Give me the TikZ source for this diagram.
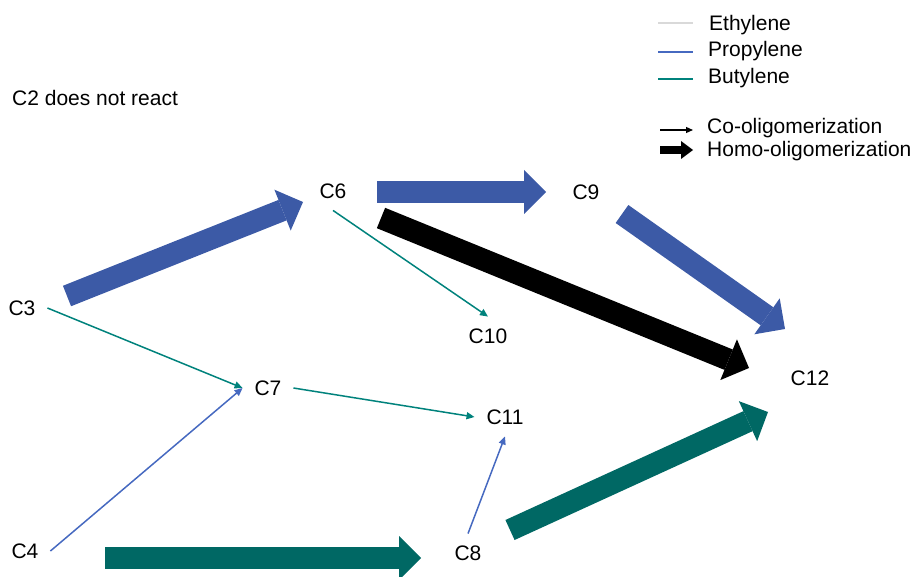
\documentclass[tikz,border=0pt]{standalone}
\usepackage{fontspec}
\setmainfont{Liberation Sans}
\usetikzlibrary{arrows.meta}
\definecolor{ethyl}{RGB}{217,217,217}
\definecolor{propthin}{RGB}{70,105,192}
\definecolor{propfat}{RGB}{60,90,166}
\definecolor{buttthin}{RGB}{0,130,124}
\definecolor{butfat}{RGB}{0,104,100}
\begin{document}
\begin{tikzpicture}[x=1bp,y=-1bp, every node/.style={font=\fontsize{21bp}{25bp}\selectfont},
  species/.style={inner sep=0pt, outer sep=12bp},
  legtext/.style={anchor=base west, inner sep=0pt},
  co/.style={line width=1.5bp, -{Triangle[width=7bp,length=8bp]}},
  homo/.style={line width=22bp, -{Triangle[width=44bp,length=22bp,line width=0pt]}}]
\useasboundingbox (0,0) rectangle (919,577);
\node[species] (C3) at (22,308) {C3};
\node[species] (C4) at (25,551) {C4};
\node[species] (C6) at (333,191) {C6};
\node[species] (C7) at (268,388) {C7};
\node[species] (C8) at (468,553) {C8};
\node[species] (C9) at (586,192) {C9};
\node[species] (C10) at (488,336) {C10};
\node[species] (C11) at (505,417) {C11};
\node[species] (C12) at (810,378) {C12};
\node[anchor=west, inner sep=0pt] (c2) at (12,98) {C2 does not react};
\draw[co, buttthin] (C3.east) -- (C7.west);
\draw[co, propthin] (C4.east) -- (C7.west);
\draw[co, buttthin] (C7.east) -- (C11.west);
\draw[co, buttthin] (C6.south) -- (C10.north);
\draw[co, propthin] (C8.north) -- (C11.south);
\coordinate (h3) at (67,296); \coordinate (h6) at (303,202);
\coordinate (h6a) at (377,192); \coordinate (h9) at (546,192);
\coordinate (h6b) at (381,218); \coordinate (h12a) at (749,368);
\coordinate (h9a) at (622,214); \coordinate (h12b) at (785,329);
\coordinate (h8a) at (510,530); \coordinate (h12c) at (768,412);
\coordinate (h4) at (105,558); \coordinate (h8) at (421,558);
\draw[homo, propfat] (h3) -- (h6);
\draw[homo, propfat] (h6a) -- (h9);
\draw[homo, black] (h6b) -- (h12a);
\draw[homo, propfat] (h9a) -- (h12b);
\draw[homo, butfat] (h8a) -- (h12c);
\draw[homo, butfat] (h4) -- (h8);
% legend
\node[legtext] (leth) at (709,31) {Ethylene};
\node[legtext] (lprop) at (708,57) {Propylene};
\node[legtext] (lbut) at (708,84) {Butylene};
\node[legtext] (lco) at (707,134) {Co-oligomerization};
\node[legtext] (lhomo) at (707,157) {Homo-oligomerization};
\draw[ethyl, line width=2bp] (658,23) -- (693,23);
\draw[propthin, line width=2bp] (658,52) -- (693,52);
\draw[buttthin, line width=2bp] (658,79) -- (693,79);
\draw[line width=1.2bp, -{Triangle[width=6bp,length=7bp]}] (660,130) -- (693,130);
\draw[line width=8bp, -{Triangle[width=18bp,length=12bp,line width=0pt]}] (660,150) -- (693,150);
\end{tikzpicture}
\end{document}
